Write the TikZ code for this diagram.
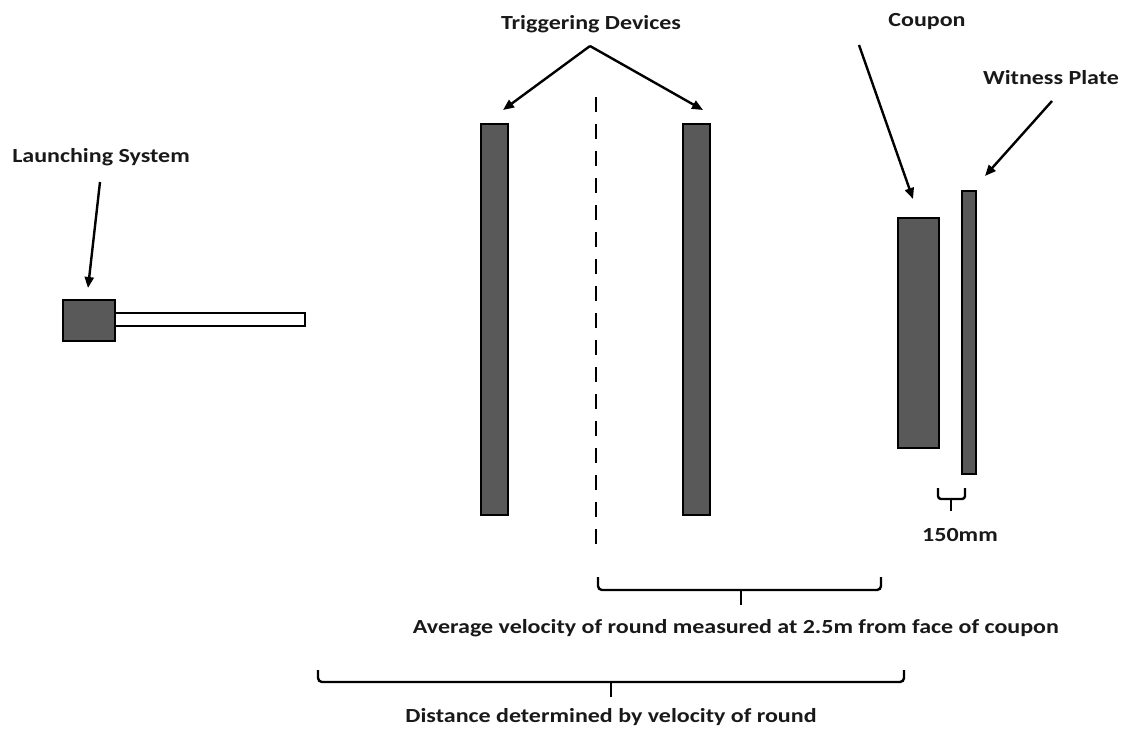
\documentclass[tikz,border=0pt]{standalone}
\usepackage{fontspec}
\setmainfont{Carlito}
\usetikzlibrary{arrows.meta}
\definecolor{bargray}{HTML}{595959}
\tikzset{
  part/.style={draw=black, line width=2.6pt, fill=bargray},
  pointer/.style={line width=2.4pt, -{Triangle[length=11pt,width=9pt]}},
  lbl/.style={font=\fontsize{20}{22}\selectfont\bfseries, inner sep=0pt, text=black!90},
  bracket/.style={line width=2.4pt, rounded corners=4pt},
}
\newcommand{\wide}[1]{\scalebox{1.2}[1]{#1}}
\begin{document}
\begin{tikzpicture}[x=1pt,y=-1pt]
\useasboundingbox (0,0) rectangle (1121,734);
% launcher
\draw[line width=2.4pt, fill=white] (115,313) rectangle (305,326);
\draw[part] (63,300) rectangle (115,341);
\coordinate (launch) at (88,288);
% triggering devices
\draw[part] (481,124) rectangle (508,515);
\draw[part] (683,124) rectangle (710,515);
\coordinate (trigL) at (503,110);
\coordinate (trigR) at (703,110);
\draw[line width=2.6pt, dash pattern=on 15pt off 12pt] (596,97) -- (596,550);
% coupon and witness plate
\draw[part] (898,218) rectangle (939,448);
\draw[part] (962,191) rectangle (976,474);
\coordinate (coup) at (913,199);
\coordinate (wit) at (985,176);
% labels
\node[lbl] (ls) at (101,157) {\wide{Launching System}};
\node[lbl] (td) at (591,24) {\wide{Triggering Devices}};
\node[lbl] (cp) at (927,22) {\wide{Coupon}};
\node[lbl] (wp) at (1051,78) {\wide{Witness Plate}};
\coordinate (lsA) at (100,182);
\coordinate (tdA) at (590,46);
\coordinate (cpA) at (859,45);
\coordinate (wpA) at (1052,101);
\draw[pointer] (lsA) -- (launch);
\draw[pointer] (tdA) -- (trigL);
\draw[pointer] (tdA) -- (trigR);
\draw[pointer] (cpA) -- (coup);
\draw[pointer] (wpA) -- (wit);
% small bracket
\draw[bracket, rounded corners=3pt] (938,488) |- (951,499) -| (965,488);
\draw[line width=2.4pt] (951,499) -- (951,511);
\node[lbl] (mm) at (960,535) {\wide{150mm}};
% bracket 1
\draw[bracket] (598,577) |- (741,590) -| (881,577);
\draw[line width=2.4pt] (741,590) -- (741,605);
\node[lbl] (avg) at (736,628) {\wide{Average velocity of round measured at 2.5m from face of coupon}};
% bracket 2
\draw[bracket] (318,670) |- (611,682) -| (904,670);
\draw[line width=2.4pt] (611,682) -- (611,697);
\node[lbl] (dist) at (611,717) {\wide{Distance determined by velocity of round}};
\end{tikzpicture}
\end{document}
